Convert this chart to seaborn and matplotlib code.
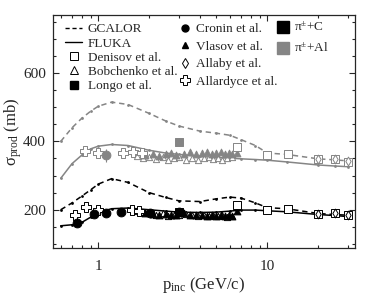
import numpy as np
import pandas as pd
import matplotlib
matplotlib.use('Agg')
import matplotlib.pyplot as plt
import seaborn as sns
from matplotlib.lines import Line2D
from matplotlib.ticker import LogLocator, FixedLocator, MultipleLocator, NullFormatter


# model calculations (GeV/c, mb)
P_MODEL = [0.6, 0.7, 0.8, 0.9, 1.0, 1.2, 1.5, 2.0, 2.5, 3.0, 4.0, 5.0, 6.0, 7.0, 8.5, 10, 13, 20, 25, 30]
GCALOR_AL = [400, 440, 468, 488, 503, 515, 508, 482, 460, 445, 430, 424, 418, 405, 388, 366, 362, 349, 346, 343]
FLUKA_AL = [292, 335, 360, 378, 386, 391, 388, 374, 366, 362, 356, 353, 351, 349, 347, 345, 340, 331, 328, 326]
GCALOR_C = [200, 220, 240, 258, 275, 291, 280, 250, 236, 226, 224, 232, 237, 234, 220, 206, 203, 189, 186, 184]
FLUKA_C = [153, 156, 163, 178, 192, 203, 205, 200, 196, 193, 192, 193, 196, 199, 199, 197, 194, 186, 183, 180]

# Denisov et al.
P_DEN = [6.6, 10, 13.2, 20, 25, 30]
DEN_C = [215, 200, 203, 188, 191, 185]
DEN_AL = [385, 361, 364, 349, 349, 341]

# Allaby et al.
P_ALB = [20, 25, 30]
ALB_C = [187, 189, 184]
ALB_AL = [348, 348, 342]

# Cronin et al.
P_CRO_C = [0.75, 0.95, 1.11, 1.36, 2.02, 3.02]
CRO_C = [162, 188, 191, 194, 191, 192]
P_CRO_AL = [1.11]
CRO_AL = [359]
CRO_AL_ERR = [20]

# Longo et al.
P_LON = [3.02]
LON_AL = [399]
LON_AL_ERR = [12]
LON_C = [192]

# Allardyce et al.
P_ALD_C = [0.73, 0.85, 1.0, 1.58, 1.75]
ALD_C = [185, 207, 198, 200, 196]
P_ALD_AL = [0.83, 1.0, 1.41, 1.6, 1.81]
ALD_AL = [371, 367, 367, 370, 367]

# Vlasov et al.
P_VLA = [1.9, 2.1, 2.3, 2.5, 2.7, 2.9, 3.2, 3.5, 3.8, 4.1, 4.4, 4.7, 5.0, 5.3, 5.6, 5.9, 6.2, 6.6]
VLA_C = [190, 187, 185, 188, 184, 186, 189, 184, 186, 184, 182, 186, 183, 185, 182, 184, 181, 196]
VLA_AL = [360, 364, 358, 362, 366, 360, 364, 368, 362, 365, 369, 363, 366, 370, 364, 367, 362, 365]

# Bobchenko et al.
P_BOB = [1.7, 1.85, 2.0, 2.2, 2.4, 2.6, 2.8, 3.0, 3.3, 3.6, 3.9, 4.2, 4.5, 4.8, 5.1, 5.4, 5.8, 6.2]
BOB_C = [196, 192, 190, 186, 189, 183, 186, 184, 188, 185, 182, 186, 183, 185, 181, 184, 180, 183]
BOB_AL = [358, 352, 355, 348, 353, 345, 350, 354, 347, 351, 346, 350, 353, 348, 352, 347, 350, 355]

BLACK = '#000000'
GREY = '#858585'

sns.set_style('ticks')
plt.rcParams['font.family'] = ['Liberation Serif', 'DejaVu Serif']
plt.rcParams['mathtext.fontset'] = 'custom'
plt.rcParams['mathtext.rm'] = 'Liberation Serif'
plt.rcParams['mathtext.it'] = 'Liberation Serif:italic'

fig = plt.figure(figsize=(3.74, 2.96), dpi=100)
ax = fig.add_axes([53 / 374, 48 / 296, 302 / 374, 233 / 296])


def model(y, color, ls):
    sns.lineplot(x=P_MODEL, y=y, ax=ax, color=color, lw=1.1, linestyle=ls,
                 marker='o', markersize=2, markeredgewidth=0, sort=False)


def pts(x, y, color, marker, size, filled=True, lw=0.7):
    sns.scatterplot(x=x, y=y, ax=ax, marker=marker, s=size,
                    color=color if filled else 'white',
                    edgecolor=color, linewidth=lw, zorder=4)


model(GCALOR_AL, GREY, (0, (3.5, 2.5)))
model(FLUKA_AL, GREY, '-')
model(GCALOR_C, BLACK, (0, (3.5, 2.5)))
model(FLUKA_C, BLACK, '-')

for col, vla, bob, den, alb, ald_p, ald in [
        (GREY, VLA_AL, BOB_AL, DEN_AL, ALB_AL, P_ALD_AL, ALD_AL),
        (BLACK, VLA_C, BOB_C, DEN_C, ALB_C, P_ALD_C, ALD_C)]:
    ax.errorbar(P_VLA, vla, yerr=7, fmt='none', ecolor=col, elinewidth=0.6, zorder=3)
    pts(P_BOB, bob, col, '^', 20, filled=False)
    pts(P_VLA, vla, col, '^', 24)
    pts(P_DEN, den, col, 's', 36, filled=False)
    pts(P_ALB, alb, col, 'd', 20, filled=False)
    pts(ald_p, ald, col, 'P', 55, filled=False)

ax.errorbar(P_CRO_AL, CRO_AL, yerr=CRO_AL_ERR, fmt='none', ecolor=GREY, elinewidth=0.8, zorder=3)
ax.errorbar(P_LON, LON_AL, yerr=LON_AL_ERR, fmt='none', ecolor=GREY, elinewidth=0.8, zorder=3)
pts(P_CRO_C, CRO_C, BLACK, 'o', 40)
pts(P_CRO_AL, CRO_AL, GREY, 'o', 40)
pts(P_LON, LON_AL, GREY, 's', 40)
pts(P_LON, LON_C, BLACK, 's', 30)

ax.set_xscale('log')
ax.set_xlim(0.54, 33)
ax.set_ylim(88, 770)
ax.xaxis.set_major_locator(FixedLocator([1, 10]))
ax.xaxis.set_major_formatter(matplotlib.ticker.FixedFormatter(['1', '10']))
ax.xaxis.set_minor_locator(LogLocator(base=10, subs=np.arange(2, 10) * 1.0, numticks=20))
ax.xaxis.set_minor_formatter(NullFormatter())
ax.yaxis.set_major_locator(MultipleLocator(200))
ax.yaxis.set_minor_locator(MultipleLocator(50))
ax.tick_params(which='both', direction='in', top=True, right=True, labelsize=11, width=0.8)
ax.tick_params(which='major', length=4.5, pad=5)
ax.tick_params(axis='x', which='major', pad=9)
ax.tick_params(which='minor', length=2.5)
for s in ax.spines.values():
    s.set_linewidth(0.9)

ax.set_xlabel('p$_{\\rm inc}$ (GeV/c)', fontsize=12, labelpad=1)
ax.set_ylabel('σ$_{\\rm prod}$ (mb)', fontsize=12)
ax.yaxis.set_label_coords(-0.095, 0.5)

leg_kw = dict(frameon=False, fontsize=9.5, loc='upper left', borderpad=0, handletextpad=0.4,
              borderaxespad=0)
h1 = [Line2D([], [], color='k', lw=1, linestyle=(0, (3, 2))),
      Line2D([], [], color='k', lw=1),
      Line2D([], [], color='k', marker='s', mfc='white', ls='none', ms=6, mew=0.7),
      Line2D([], [], color='k', marker='^', mfc='white', ls='none', ms=6, mew=0.7),
      Line2D([], [], color='k', marker='s', ls='none', ms=6)]
l1 = ax.legend(h1, ['GCALOR', 'FLUKA', 'Denisov et al.', 'Bobchenko et al.', 'Longo et al.'],
               bbox_to_anchor=(0.04, 0.965), handlelength=1.3, labelspacing=0.15, **leg_kw)
ax.add_artist(l1)
h2 = [Line2D([], [], color='k', marker='o', ls='none', ms=5),
      Line2D([], [], color='k', marker='^', ls='none', ms=5),
      Line2D([], [], color='k', marker='d', mfc='white', ls='none', ms=5, mew=0.7),
      Line2D([], [], color='k', marker='P', mfc='white', ls='none', ms=7, mew=0.7)]
l2 = ax.legend(h2, ['Cronin et al.', 'Vlasov et al.', 'Allaby et al.', 'Allardyce et al.'],
               bbox_to_anchor=(0.42, 0.965), handlelength=0.8, labelspacing=0.4, **leg_kw)
ax.add_artist(l2)
h3 = [Line2D([], [], color=BLACK, marker='s', ls='none', ms=9),
      Line2D([], [], color=GREY, marker='s', ls='none', ms=9)]
ax.legend(h3, ['π$^{\\rm ±}$+C', 'π$^{\\rm ±}$+Al'],
          bbox_to_anchor=(0.745, 0.975), handlelength=0.8, labelspacing=0.6, **leg_kw)

fig.savefig('out.png', dpi=100)
